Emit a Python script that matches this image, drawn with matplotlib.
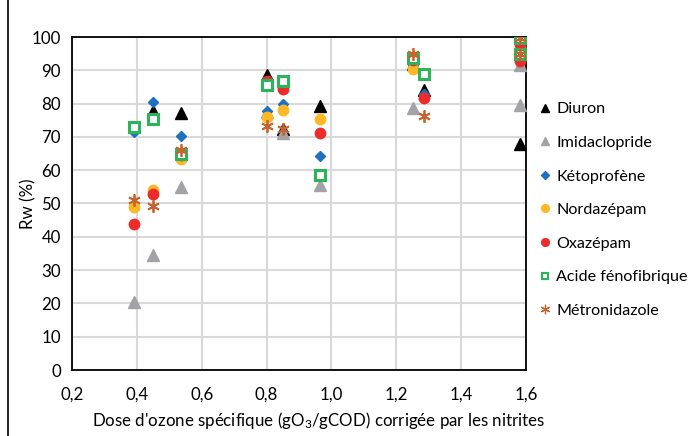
#!/usr/bin/env python3
"""
Rw (%) vs specific ozone dose, one marker series per compound
"""

import numpy as np
import matplotlib.pyplot as plt
from matplotlib.lines import Line2D

nan = np.nan

# doses (gO3/gCOD corrected for nitrites), two runs at the highest dose
dose = [0.39, 0.45, 0.535, 0.80, 0.85, 0.965, 1.25, 1.285, 1.58, 1.58]

diuron = [nan, 77.8, 77.2, 88.5, 72.5, 79.3, 92.0, 84.2, 97.5, 67.8]
imidaclopride = [20.3, 34.6, 55.0, 77.5, 71.2, 55.5, 78.8, nan, 91.5, 79.5]
ketoprofene = [71.4, 80.4, 70.2, 77.8, 79.8, 64.3, 91.5, 83.0, 97.0, 94.5]
nordazepam = [49.0, 54.2, 63.3, 76.0, 78.0, 75.3, 90.5, nan, 97.0, 94.5]
oxazepam = [43.7, 52.8, 64.5, 86.8, 84.5, 71.2, 93.0, 81.8, 98.0, 92.7]
acide_fenofibrique = [73.0, 75.3, 65.0, 85.5, 86.8, 58.7, 93.8, 88.8, 99.6, 94.8]
metronidazole = [51.0, 49.3, 66.0, 73.3, 72.3, nan, 95.0, 76.3, 99.6, 94.8]

x_ticks = [0.2, 0.4, 0.6, 0.8, 1.0, 1.2, 1.4, 1.6]
y_ticks = [0, 10, 20, 30, 40, 50, 60, 70, 80, 90, 100]

plt.rcParams['font.family'] = ['Lato', 'DejaVu Sans']
plt.rcParams['mathtext.fontset'] = 'custom'
plt.rcParams['mathtext.rm'] = 'Lato'
plt.rcParams['mathtext.it'] = 'Lato'

fs = 12.2

fig = plt.figure(figsize=(6.94, 4.36), dpi=100)
ax = fig.add_axes([72 / 694, 1 - 370 / 436, 454 / 694, 333 / 436])

series = [
    ('Diuron', diuron, dict(marker='^', color='black', ms=8.5)),
    ('Imidaclopride', imidaclopride, dict(marker='^', color='#A3A3A7', ms=8.5)),
    ('Kétoprofène', ketoprofene, dict(marker='D', color='#1F70C1', ms=5.5)),
    ('Nordazépam', nordazepam, dict(marker='o', color='#FDB827', ms=7.5)),
    ('Oxazépam', oxazepam, dict(marker='o', color='#EE2B2B', ms=7.5)),
    ('Acide fénofibrique', acide_fenofibrique,
     dict(marker='s', color='#2BB45A', ms=6.5, mfc='white', mew=2.2)),
    ('Métronidazole', metronidazole,
     dict(marker=(6, 2, 0), color='#C8632E', ms=9, mew=1.3)),
]

for name, vals, style in series:
    ax.plot(dose, vals, linestyle='none', label=name, zorder=3, **style)

ax.set_xlim(0.2, 1.6)
ax.set_ylim(0, 100)
ax.set_xticks(x_ticks)
ax.set_xticklabels([f'{t:.1f}'.replace('.', ',') for t in x_ticks])
ax.set_yticks(y_ticks)
ax.tick_params(length=0, labelsize=fs)
ax.tick_params(axis='x', pad=12)
ax.tick_params(axis='y', pad=8)
ax.grid(True, color='#D9D9D9', linewidth=1.5)
ax.set_axisbelow(True)
for sp in ax.spines.values():
    sp.set_linewidth(1.3)
    sp.set_color('black')

ax.set_ylabel('Rw (%)', fontsize=fs, va='center')
ax.yaxis.set_label_coords(-44 / 454, 0.5)
ax.set_xlabel("Dose d'ozone spécifique (gO$_3$/gCOD) corrigée par les nitrites",
              fontsize=fs, va='center')
ax.xaxis.set_label_coords((319 - 72) / 454, -(420 - 370) / 333)

# legend outside on the right, small markers
handles = []
for name, vals, style in series:
    st = dict(style)
    st['ms'] = st['ms'] * 0.75
    if 'mew' in st:
        st['mew'] = st['mew'] * 0.7
    handles.append(Line2D([], [], linestyle='none', label=name, **st))
fig.legend(handles=handles, loc='upper left', bbox_to_anchor=(540 / 694, 1 - 102 / 436),
           frameon=False, fontsize=fs - 0.6, handlelength=0.6, handletextpad=0.4,
           labelspacing=1.2, borderaxespad=0, borderpad=0)

# left edge of the surrounding frame
fig.add_artist(Line2D([8 / 694, 8 / 694], [0, 1], color='black', linewidth=1.2))

fig.savefig('out.png', dpi=100)
